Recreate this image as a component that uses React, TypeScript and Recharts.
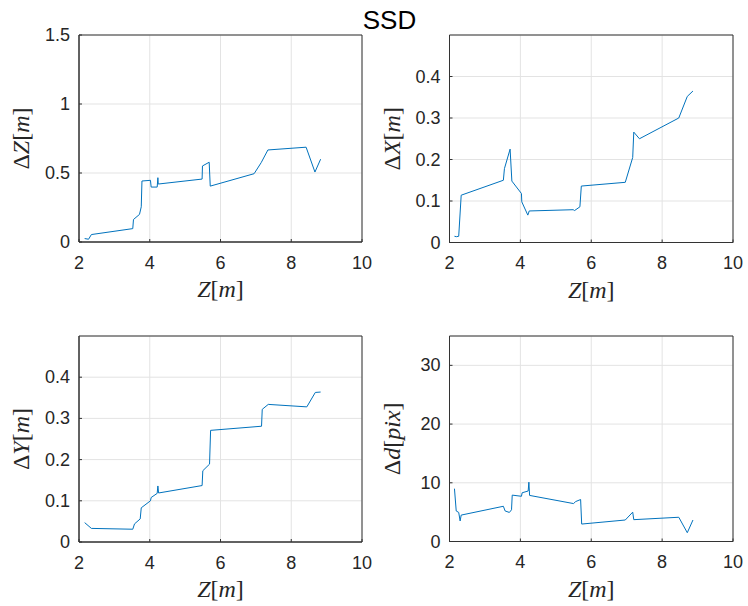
import { ReactElement } from 'react'
import { LineChart, Line, XAxis, YAxis, CartesianGrid, Label, ReferenceArea } from 'recharts'

// (x = Z in metres)
const zDZ = [2.16, 2.27, 2.35, 3.52, 3.54, 3.71, 3.76, 3.78, 4.02, 4.04, 4.21, 4.23, 4.24, 5.48, 5.49, 5.68, 5.71, 6.95, 7.15, 7.34, 8.42, 8.67, 8.83]
const dZ = [0.025, 0.02, 0.054, 0.097, 0.163, 0.2, 0.255, 0.442, 0.447, 0.398, 0.398, 0.466, 0.42, 0.456, 0.551, 0.578, 0.405, 0.495, 0.575, 0.667, 0.687, 0.507, 0.6]

const zDX = [2.14, 2.2, 2.26, 2.33, 3.52, 3.55, 3.71, 3.76, 4.03, 4.04, 4.21, 4.25, 5.49, 5.53, 5.68, 5.72, 6.96, 7.17, 7.2, 7.36, 8.47, 8.71, 8.87]
const dX = [0.015, 0.014, 0.015, 0.114, 0.15, 0.178, 0.225, 0.148, 0.118, 0.098, 0.066, 0.076, 0.079, 0.077, 0.086, 0.136, 0.145, 0.205, 0.266, 0.25, 0.3, 0.352, 0.365]

const zDY = [2.16, 2.35, 3.52, 3.57, 3.73, 3.76, 4.02, 4.04, 4.21, 4.23, 4.25, 5.48, 5.5, 5.69, 5.72, 7.16, 7.18, 7.35, 8.44, 8.68, 8.83]
const dY = [0.047, 0.033, 0.031, 0.044, 0.056, 0.083, 0.1, 0.108, 0.118, 0.136, 0.119, 0.137, 0.173, 0.189, 0.271, 0.281, 0.322, 0.334, 0.328, 0.363, 0.364]

const zDd = [2.14, 2.19, 2.26, 2.3, 2.33, 3.52, 3.57, 3.69, 3.75, 3.77, 4.03, 4.05, 4.22, 4.24, 4.26, 5.5, 5.56, 5.7, 5.73, 6.96, 7.17, 7.2, 8.47, 8.71, 8.87]
const dd = [9.0, 5.2, 4.95, 3.5, 4.5, 6.0, 5.2, 4.95, 5.4, 7.9, 7.7, 8.3, 8.6, 10.1, 7.85, 6.46, 6.8, 7.15, 2.97, 3.66, 5.0, 3.72, 4.13, 1.5, 3.66]

const zTicks = [2, 4, 6, 8, 10]

const SANS = '"Liberation Sans", Arial, Helvetica, sans-serif'
const SERIF = '"Liberation Serif", "Times New Roman", serif'
const AXIS = '#333333'
const W = 374
const H = 303

type Part = [string, boolean]

const MathText = ({ x, y, parts, vertical }: { x: number; y: number; parts: Part[]; vertical?: boolean }) => (
  <text
    x={x}
    y={y}
    textAnchor="middle"
    fontFamily={SERIF}
    fontSize={24}
    fill="#262626"
    transform={vertical ? `rotate(-90 ${x} ${y})` : undefined}
  >
    {parts.map(([s, it], i) => (
      <tspan key={i} fontStyle={it ? 'italic' : 'normal'}>
        {s}
      </tspan>
    ))}
  </text>
)

const zLabel: Part[] = [['Z', true], ['[', false], ['m', true], [']', false]]

const TickText = ({ x, y, payload, anchor }: any) => (
  <text
    x={x}
    y={y}
    textAnchor={anchor}
    dominantBaseline={anchor === 'middle' ? 'hanging' : 'central'}
    fontFamily={SANS}
    fontSize={18}
    fill="#262626"
  >
    {payload.value}
  </text>
)

interface PanelProps {
  zs: number[]
  vs: number[]
  yMax: number
  yTicks: number[]
  yLabel: Part[]
  left: number
  top: number
  margin: { top: number; right: number; bottom: number; left: number }
}

const Panel = ({ zs, vs, yMax, yTicks, yLabel, left, top, margin }: PanelProps): ReactElement => {
  const data = zs.map((z, i) => ({ z, v: vs[i] }))
  return (
    <div style={{ position: 'absolute', left, top }}>
      <LineChart width={W} height={H} data={data} margin={margin}>
        <CartesianGrid stroke="#e3e3e3" strokeWidth={1} />
        <XAxis
          dataKey="z"
          type="number"
          domain={[2, 10]}
          ticks={zTicks}
          allowDataOverflow
          height={60}
          stroke={AXIS}
          tickSize={-3}
          tickMargin={17}
          tick={(p: any) => <TickText {...p} anchor="middle" />}
        >
          <Label
            content={(p: any) => (
              <MathText x={p.viewBox.x + p.viewBox.width / 2} y={p.viewBox.y + 55} parts={zLabel} />
            )}
          />
        </XAxis>
        <XAxis
          xAxisId="top"
          orientation="top"
          dataKey="z"
          type="number"
          domain={[2, 10]}
          ticks={zTicks}
          allowDataOverflow
          height={0}
          stroke={AXIS}
          tickSize={-3}
          tick={false}
        />
        <YAxis
          type="number"
          domain={[0, yMax]}
          ticks={yTicks}
          allowDataOverflow
          width={70}
          stroke={AXIS}
          tickSize={-3}
          tickMargin={12}
          tick={(p: any) => <TickText {...p} anchor="end" />}
        >
          <Label
            content={(p: any) => (
              <MathText
                x={p.viewBox.x + p.viewBox.width - 50}
                y={p.viewBox.y + p.viewBox.height / 2}
                parts={yLabel}
                vertical
              />
            )}
          />
        </YAxis>
        <YAxis
          yAxisId="right"
          orientation="right"
          type="number"
          domain={[0, yMax]}
          ticks={yTicks}
          allowDataOverflow
          width={0}
          stroke={AXIS}
          tickSize={-3}
          tick={false}
        />
        <ReferenceArea x1={2} x2={10} y1={0} y2={yMax} fill="none" stroke={AXIS} strokeWidth={1} ifOverflow="visible" />
        <Line
          type="linear"
          dataKey="v"
          stroke="#0072BD"
          strokeWidth={1}
          dot={false}
          activeDot={false}
          isAnimationActive={false}
        />
      </LineChart>
    </div>
  )
}

export default function App() {
  return (
    <div style={{ position: 'absolute', left: 0, top: 0, width: 748, height: 606, background: '#fff' }}>
      <div
        style={{
          position: 'absolute',
          left: 0,
          top: 7,
          width: 779,
          textAlign: 'center',
          fontFamily: SANS,
          fontSize: 26,
          lineHeight: '26px',
          color: '#000'
        }}
      >
        SSD
      </div>
      <Panel
        zs={zDZ}
        vs={dZ}
        yMax={1.5}
        yTicks={[0, 0.5, 1, 1.5]}
        yLabel={[['Δ', false], ['Z', true], ['[', false], ['m', true], [']', false]]}
        left={0}
        top={0}
        margin={{ top: 35, right: 12, bottom: 1, left: 9 }}
      />
      <Panel
        zs={zDX}
        vs={dX}
        yMax={0.5}
        yTicks={[0, 0.1, 0.2, 0.3, 0.4]}
        yLabel={[['Δ', false], ['X', true], ['[', false], ['m', true], [']', false]]}
        left={374}
        top={0}
        margin={{ top: 35, right: 15, bottom: 0.5, left: 5.5 }}
      />
      <Panel
        zs={zDY}
        vs={dY}
        yMax={0.5}
        yTicks={[0, 0.1, 0.2, 0.3, 0.4]}
        yLabel={[['Δ', false], ['Y', true], ['[', false], ['m', true], [']', false]]}
        left={0}
        top={303}
        margin={{ top: 33, right: 12, bottom: 4, left: 9 }}
      />
      <Panel
        zs={zDd}
        vs={dd}
        yMax={35}
        yTicks={[0, 10, 20, 30]}
        yLabel={[['Δ', false], ['d', true], ['[', false], ['pix', true], [']', false]]}
        left={374}
        top={303}
        margin={{ top: 33, right: 15, bottom: 4.5, left: 5.5 }}
      />
    </div>
  )
}
